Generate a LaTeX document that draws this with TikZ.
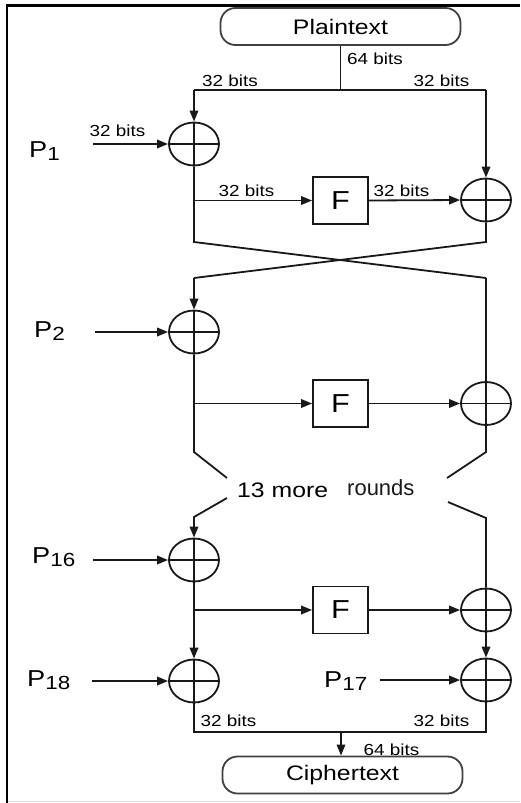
\documentclass[tikz,border=0pt]{standalone}
\usepackage{fontspec}
\setmainfont{Liberation Sans}[FakeStretch=1.18]
\newfontfamily\plainsans{Liberation Sans}
\usetikzlibrary{arrows.meta,shapes.geometric}
\newcommand\Pidx[1]{P\raisebox{-3.5pt}{\fontsize{19}{19}\selectfont #1}}
\tikzset{
 wire/.style={line width=1.8pt, draw=black!90},
 arr/.style={wire, -{Triangle[length=11pt,width=8.5pt]}},
 xor/.style={draw=black!90, line width=1.8pt, ellipse, minimum width=50pt, minimum height=43pt, inner sep=0pt,
   path picture={\draw[line width=1.8pt, black!90] (path picture bounding box.north) -- (path picture bounding box.south)
     (path picture bounding box.west) -- (path picture bounding box.east);}},
 fbox/.style={draw=black!90, line width=1.8pt, minimum width=55pt, minimum height=47pt, inner sep=0pt, font=\fontsize{26}{26}\selectfont},
 term/.style={draw=black!75, line width=1.8pt, rounded corners=15pt, minimum width=240pt, minimum height=37pt, inner sep=0pt, font=\fontsize{21}{21}\selectfont},
 bits/.style={font=\fontsize{16}{16}\selectfont, inner sep=0pt},
 plab/.style={font=\fontsize{23}{23}\selectfont, inner sep=0pt, anchor=base west},
}
\begin{document}
\begin{tikzpicture}[x=1pt,y=-1pt]
\useasboundingbox (0,0) rectangle (520,803);
% frame
\draw[black!12, line width=1.2pt] (8,801.5) -- (520,801.5);
\draw[line width=2.4pt] (7,803) -- (7,5.5) -- (520,5.5);

% nodes
\node[term] (pt) at (340.5,26.5) {Plaintext};
\coordinate (top) at (340.5,90);
\coordinate (tl) at (194,90);
\coordinate (tr) at (486,90);
\node[xor] (x1l) at (194,144) {};
\node[xor] (x1r) at (486,200) {};
\node[fbox] (f1) at (340.5,200.5) {F};
\coordinate (j1) at (194,200.5);
\coordinate (c1l) at (194,242);
\coordinate (c1r) at (486,242);
\coordinate (c2l) at (194,278);
\coordinate (c2r) at (486,278);
\node[xor] (x2l) at (194,332) {};
\node[fbox] (f2) at (340.5,403.5) {F};
\node[xor] (x2r) at (486,403.5) {};
\coordinate (j2) at (194,403.5);
\coordinate (d1l) at (194,452);
\coordinate (d1r) at (486,452);
\coordinate (e1l) at (227,478);
\coordinate (e1r) at (447,478);
\coordinate (e2l) at (227,498);
\coordinate (e2r) at (448,502);
\coordinate (d2l) at (194,517);
\coordinate (d2r) at (486,518);
\node[xor] (x16l) at (194,560) {};
\node[fbox] (f3) at (340.5,610) {F};
\node[xor] (x16r) at (486,610) {};
\coordinate (j3) at (194,610);
\node[xor] (x18l) at (194,681) {};
\node[xor] (x17r) at (486,680) {};
\coordinate (bl) at (194,732);
\coordinate (br) at (486,732);
\coordinate (bm) at (341,732);
\node[term] (ct) at (342.5,775) {Ciphertext};

% P inputs
\coordinate (p1s) at (93,144);
\coordinate (p2s) at (95,332);
\coordinate (p16s) at (93,560);
\coordinate (p18s) at (92,681);
\coordinate (p17s) at (380,680);

% wires
\draw[wire] (pt.south) -- (top);
\draw[wire] (tl) -- (tr);
\draw[arr] (tl) -- (x1l.north);
\draw[arr] (tr) -- (x1r.north);
\draw[wire] (x1l.south) -- (c1l) -- (c2r);
\draw[wire] (x1r.south) -- (c1r) -- (c2l);
\draw[arr] (j1) -- (f1.west);
\draw[arr] (f1.east) -- (x1r.west);
\draw[arr] (c2l) -- (x2l.north);
\draw[wire] (c2r) -- (x2r.north);
\draw[wire] (x2l.south) -- (d1l) -- (e1l);
\draw[arr] (j2) -- (f2.west);
\draw[arr] (f2.east) -- (x2r.west);
\draw[wire] (x2r.south) -- (d1r) -- (e1r);
\draw[arr] (e2l) -- (d2l) -- (x16l.north);
\draw[wire] (e2r) -- (d2r) -- (x16r.north);
\draw[arr] (x16l.south) -- (x18l.north);
\draw[arr] (j3) -- (f3.west);
\draw[arr] (f3.east) -- (x16r.west);
\draw[arr] (x16r.south) -- (x17r.north);
\draw[wire] (x18l.south) -- (bl) -- (br) -- (x17r.south);
\draw[arr] (bm) -- (bm |- ct.north);

\draw[arr] (p1s) -- (x1l.west);
\draw[arr] (p2s) -- (x2l.west);
\draw[arr] (p16s) -- (x16l.west);
\draw[arr] (p18s) -- (x18l.west);
\draw[arr] (p17s) -- (x17r.west);

% labels
\node[plab] (lp1) at (29,157) {\Pidx{1}};
\node[plab] (lp2) at (34,337) {\Pidx{2}};
\node[plab] (lp16) at (32,563) {\Pidx{16}};
\node[plab] (lp18) at (27,686) {\Pidx{18}};
\node[plab] (lp17) at (324,687) {\Pidx{17}};

\node[bits] (b64t) at (375,58.5) {64 bits};
\node[bits] (b32tl) at (230,81) {32 bits};
\node[bits] (b32tr) at (441.5,81) {32 bits};
\node[bits] (b32p1) at (117.5,131) {32 bits};
\node[bits] (b32fl) at (246.5,191) {32 bits};
\node[bits] (b32fr) at (401.5,191) {32 bits};
\node[bits] (b32bl) at (228.5,721) {32 bits};
\node[bits] (b32br) at (441.5,721) {32 bits};
\node[bits] (b64b) at (391.5,750) {64 bits};

\node[font=\fontsize{21}{21}\selectfont, inner sep=0pt, anchor=base west] (more) at (237,497) {13 more};
\node[font=\plainsans\fontsize{22}{22}\selectfont, text=black!90, inner sep=0pt, anchor=base west] (rounds) at (347,495) {rounds};
\end{tikzpicture}
\end{document}
